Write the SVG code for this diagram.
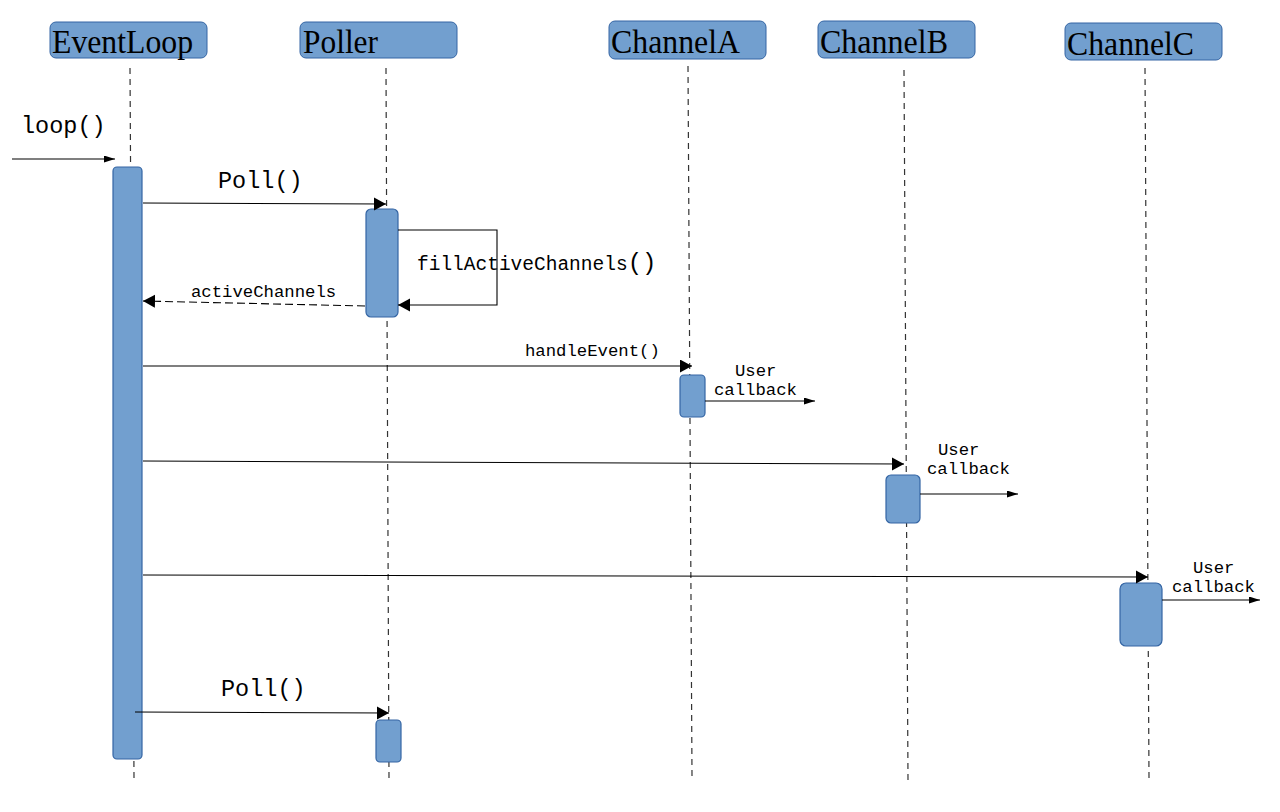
<svg xmlns="http://www.w3.org/2000/svg" width="1280" height="812" viewBox="0 0 1280 812">
  <defs>
    <marker id="big" markerUnits="userSpaceOnUse" markerWidth="14" markerHeight="14" refX="12" refY="6.5" orient="auto">
      <path d="M0,0 L12,6.5 L0,13 Z" fill="#000"/>
    </marker>
    <marker id="small" markerUnits="userSpaceOnUse" markerWidth="12" markerHeight="8" refX="11" refY="3.5" orient="auto">
      <path d="M0,0 L11,3.5 L0,7 Z" fill="#000"/>
    </marker>
  </defs>
  <style>
    .head { fill: #729fcf; stroke: #3465a4; stroke-width: 1; }
    .act { fill: #729fcf; stroke: #3465a4; stroke-width: 1.2; }
    .life { stroke: #333; stroke-width: 1.2; stroke-dasharray: 6 5; fill: none; }
    .title { font-family: "Liberation Serif", "Times New Roman", serif; font-size: 33px; fill: #000; }
    .msg { stroke: #000; stroke-width: 1.1; fill: none; }
    .mono { font-family: "Liberation Mono", "DejaVu Sans Mono", monospace; fill: #000; }
    .l23 { font-size: 23.5px; }
    .l17 { font-size: 17.3px; }
  </style>

  <rect width="1280" height="812" fill="#fff"/>

  <!-- lifelines -->
  <g id="lifelines">
    <line class="life" x1="130" y1="68" x2="134" y2="778"/>
    <line class="life" x1="386" y1="68" x2="389" y2="778"/>
    <line class="life" x1="688" y1="66" x2="692" y2="776"/>
    <line class="life" x1="904" y1="70" x2="908" y2="780"/>
    <line class="life" x1="1145" y1="68" x2="1149" y2="778"/>
  </g>

  <!-- participants -->
  <g id="EventLoop">
    <rect class="head" x="50" y="22" width="157" height="36" rx="6"/>
    <text class="title" x="52" y="53" textLength="141" lengthAdjust="spacingAndGlyphs">EventLoop</text>
  </g>
  <g id="Poller">
    <rect class="head" x="300" y="22" width="157" height="36" rx="6"/>
    <text class="title" x="303" y="53" textLength="75" lengthAdjust="spacingAndGlyphs">Poller</text>
  </g>
  <g id="ChannelA">
    <rect class="head" x="609" y="21" width="157" height="38" rx="6"/>
    <text class="title" x="611" y="53" textLength="129" lengthAdjust="spacingAndGlyphs">ChannelA</text>
  </g>
  <g id="ChannelB">
    <rect class="head" x="818" y="21" width="157" height="37" rx="6"/>
    <text class="title" x="820" y="53" textLength="128" lengthAdjust="spacingAndGlyphs">ChannelB</text>
  </g>
  <g id="ChannelC">
    <rect class="head" x="1065" y="23" width="157" height="37" rx="6"/>
    <text class="title" x="1067" y="55" textLength="127" lengthAdjust="spacingAndGlyphs">ChannelC</text>
  </g>

  <!-- activation bars -->
  <g id="EventLoop-activation">
    <rect class="act" x="113" y="167" width="29" height="592" rx="4"/>
  </g>
  <g id="Poller-activation-1">
    <rect class="act" x="366" y="209" width="32" height="108" rx="5"/>
  </g>
  <g id="ChannelA-activation">
    <rect class="act" x="680" y="375" width="25" height="42" rx="4"/>
  </g>
  <g id="ChannelB-activation">
    <rect class="act" x="886" y="475" width="34" height="48" rx="5"/>
  </g>
  <g id="ChannelC-activation">
    <rect class="act" x="1120" y="583" width="42" height="63" rx="6"/>
  </g>
  <g id="Poller-activation-2">
    <rect class="act" x="376" y="720" width="25" height="42" rx="4"/>
  </g>

  <!-- messages -->
  <g id="connectors">
    <line class="msg" x1="12" y1="159" x2="115" y2="159" marker-end="url(#small)"/>
    <line class="msg" x1="143" y1="203" x2="386" y2="204" marker-end="url(#big)"/>
    <polyline class="msg" points="398,230 497,230 497,305 398,305" marker-end="url(#big)"/>
    <line class="msg" x1="365" y1="306" x2="143" y2="301" stroke-dasharray="8 4" marker-end="url(#big)"/>
    <line class="msg" x1="143" y1="366" x2="692" y2="366" marker-end="url(#big)"/>
    <line class="msg" x1="705" y1="401" x2="815" y2="401" marker-end="url(#small)"/>
    <line class="msg" x1="143" y1="461" x2="904" y2="464" marker-end="url(#big)"/>
    <line class="msg" x1="920" y1="494" x2="1018" y2="494" marker-end="url(#small)"/>
    <line class="msg" x1="143" y1="575" x2="1148" y2="577" marker-end="url(#big)"/>
    <line class="msg" x1="1162" y1="600" x2="1260" y2="600" marker-end="url(#small)"/>
    <line class="msg" x1="135" y1="712" x2="389" y2="713" marker-end="url(#big)"/>
  </g>

  <!-- message labels -->
  <g id="labels">
    <text class="mono l23" x="21" y="133">loop()</text>
    <text class="mono l23" x="218" y="188">Poll()</text>
    <text class="mono" x="417" y="270" font-size="19.5px">fillActiveChannels<tspan font-size="24px">()</tspan></text>
    <text class="mono l17" x="191" y="297">activeChannels</text>
    <text class="mono l17" x="525" y="356">handleEvent()</text>
    <text class="mono l17" x="735" y="376">User</text>
    <text class="mono l17" x="714" y="395">callback</text>
    <text class="mono l17" x="938" y="455">User</text>
    <text class="mono l17" x="927" y="474">callback</text>
    <text class="mono l17" x="1193" y="573">User</text>
    <text class="mono l17" x="1172" y="592">callback</text>
    <text class="mono l23" x="221" y="696">Poll()</text>
  </g>
</svg>
